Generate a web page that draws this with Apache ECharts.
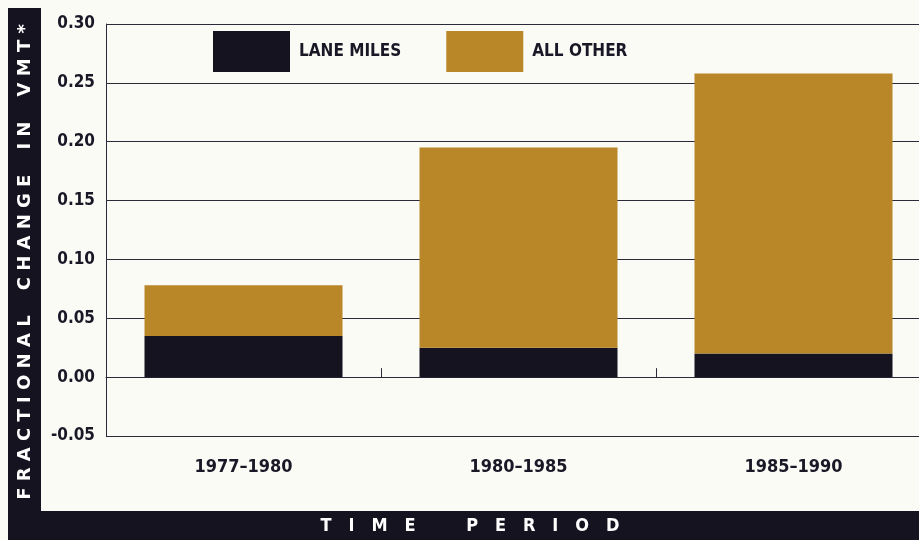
<!DOCTYPE html>
<html>
<head>
<meta charset="utf-8">
<script src="https://cdn.jsdelivr.net/npm/echarts@6/dist/echarts.min.js"></script>
<style>
  html, body { margin: 0; padding: 0; background: #fbfbf6; }
  #chart { width: 919px; height: 540px; }
</style>
</head>
<body>
<div id="chart"></div>
<script>
// values
const periods = ['1977–1980', '1980–1985', '1985–1990']
const laneMiles = [0.035, 0.025, 0.020]
const allOther = [0.043, 0.170, 0.238]
const yMin = -0.05
const yMax = 0.30
const yStep = 0.05

const FONT = "'DejaVu Sans Condensed', sans-serif"
const INK = '#1a1826'
const DARK = '#15131f'
const GOLD = '#b98628'

const chart = echarts.init(document.getElementById('chart'))

chart.setOption({
  backgroundColor: '#fbfbf6',
  animation: false,
  textStyle: { fontFamily: FONT },
  // plot runs past the right edge of the picture
  grid: { left: 106, width: 825, top: 24, bottom: 104, outerBoundsMode: 'none' },
  legend: {
    left: 213,
    top: 31,
    padding: 0,
    itemWidth: 77,
    itemHeight: 41,
    itemGap: 45,
    icon: 'rect',
    textStyle: { fontFamily: FONT, fontWeight: 'bold', fontSize: 17, color: INK, padding: [0, 0, 0, 4] },
    data: ['LANE MILES', 'ALL OTHER']
  },
  xAxis: {
    type: 'category',
    data: periods,
    axisLine: { onZero: true, lineStyle: { color: '#2a2a3a', width: 1 } },
    axisTick: { show: true, inside: true, length: 9, lineStyle: { color: '#2a2a3a' } },
    axisLabel: { margin: 22, fontFamily: FONT, fontWeight: 'bold', fontSize: 18, color: INK }
  },
  yAxis: {
    type: 'value',
    min: yMin,
    max: yMax,
    interval: yStep,
    axisLine: { show: true, lineStyle: { color: '#2a2a3a', width: 1 } },
    axisTick: { show: false },
    splitLine: { lineStyle: { color: '#2a2a3a', width: 1 } },
    axisLabel: {
      margin: 11,
      fontFamily: FONT,
      fontWeight: 'bold',
      fontSize: 17,
      color: INK,
      formatter: v => v.toFixed(2)
    }
  },
  series: [
    {
      name: 'LANE MILES',
      type: 'bar',
      stack: 'vmt',
      barWidth: '72%',
      data: laneMiles,
      itemStyle: { color: DARK }
    },
    {
      name: 'ALL OTHER',
      type: 'bar',
      stack: 'vmt',
      barWidth: '72%',
      data: allOther,
      itemStyle: { color: GOLD }
    }
  ],
  graphic: [
    { type: 'rect', left: 8, top: 8, shape: { width: 33, height: 532 }, style: { fill: DARK }, z: 0 },
    { type: 'rect', left: 8, top: 511, shape: { width: 911, height: 29 }, style: { fill: DARK }, z: 0 },
    {
      type: 'text',
      x: 25,
      y: 262,
      rotation: Math.PI / 2,
      style: {
        text: 'F R A C T I O N A L    C H A N G E    I N    V M T *',
        fill: '#ffffff',
        font: "bold 18px 'DejaVu Sans', sans-serif",
        align: 'center',
        verticalAlign: 'middle'
      },
      z: 10
    },
    {
      type: 'text',
      x: 470,
      y: 526,
      style: {
        text: 'T   I   M   E         P   E   R   I   O   D',
        fill: '#ffffff',
        font: "bold 18px 'DejaVu Sans Condensed', sans-serif",
        align: 'center',
        verticalAlign: 'middle'
      },
      z: 10
    }
  ]
})
</script>
</body>
</html>
